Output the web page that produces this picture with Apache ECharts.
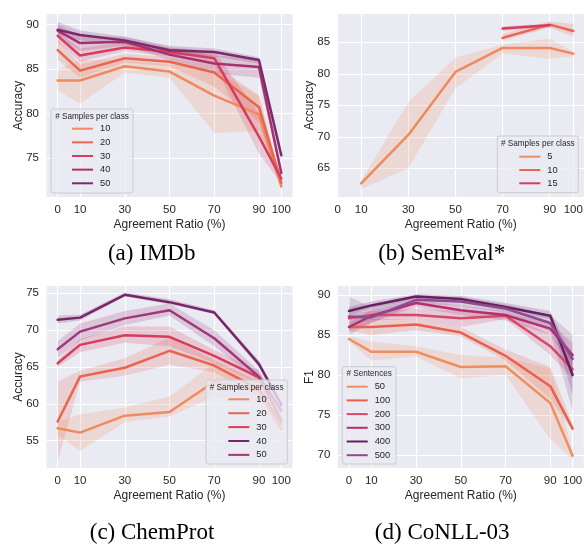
<!DOCTYPE html>
<html><head><meta charset="utf-8">
<script src="https://cdn.jsdelivr.net/npm/echarts@6/dist/echarts.min.js"></script>
<style>html,body{margin:0;padding:0;background:#fff}#c{width:587px;height:545px}</style>
</head><body><div id="c"></div>
<script>
// ---------- data ----------
const ratios = [0, 10, 30, 50, 70, 90, 100];
const xTickValues = [0, 10, 30, 50, 70, 90, 100];

// (a) IMDb
const imdbGroups = ['10', '20', '30', '40', '50'];
const imdbYTicks = [75, 80, 85, 90];
const imdbMean10 = [83.7, 83.7, 85.3, 84.7, 82.0, 79.9, 71.8];
const imdbLo10   = [82.6, 81.1, 84.6, 84.0, 77.8, 78.0, 71.5];
const imdbHi10   = [84.9, 86.0, 86.0, 85.5, 84.8, 82.0, 72.2];
const imdbMean20 = [87.1, 84.8, 86.2, 85.8, 84.6, 80.7, 72.2];
const imdbLo20   = [86.0, 84.0, 85.7, 85.3, 83.0, 79.0, 71.8];
const imdbHi20   = [88.2, 85.5, 86.7, 86.3, 85.5, 82.0, 72.5];
const imdbMean30 = [88.7, 86.5, 87.4, 86.9, 86.2, 77.4, 72.7];
const imdbLo30   = [88.0, 85.8, 87.0, 86.4, 85.5, 75.5, 72.1];
const imdbHi30   = [89.2, 87.3, 88.0, 87.4, 87.0, 80.0, 73.1];
const imdbMean40 = [89.3, 87.9, 88.05, 86.6, 85.6, 85.2, 73.3];
const imdbLo40   = [88.6, 87.0, 87.6, 86.0, 84.5, 84.0, 72.8];
const imdbHi40   = [90.0, 88.7, 88.6, 87.4, 86.5, 86.2, 73.8];
const imdbMean50 = [89.4, 88.8, 88.2, 87.1, 86.9, 86.0, 75.3];
const imdbLo50   = [88.8, 88.2, 87.7, 86.6, 86.4, 85.6, 74.8];
const imdbHi50   = [90.3, 89.3, 88.6, 87.6, 87.3, 86.3, 75.6];

// (b) SemEval*
const semGroups = ['5', '10', '15'];
const semYTicks = [65, 70, 75, 80, 85];
const semMean5  = [null, 62.6, 70.3, 80.3, 84.1, 84.1, 83.2];
const semLo5    = [null, 61.7, 65.0, 77.7, 83.2, 82.4, 82.8];
const semHi5    = [null, 63.0, 75.5, 82.6, 84.6, 85.6, 83.5];
const semMean10 = [null, null, null, null, 85.7, 87.8, 86.8];
const semLo10   = [null, null, null, null, 85.3, 87.3, 85.9];
const semHi10   = [null, null, null, null, 86.3, 88.3, 87.9];
const semMean15 = [null, null, null, null, 87.2, 87.7, null];
const semLo15   = [null, null, null, null, 86.8, 87.4, null];
const semHi15   = [null, null, null, null, 87.5, 88.0, null];

// (c) ChemProt
const chemGroups = ['10', '20', '30', '40', '50'];
const chemYTicks = [55, 60, 65, 70, 75];
const chemMean10 = [56.7, 56.1, 58.4, 58.9, 63.0, 61.7, 56.6];
const chemLo10   = [55.8, 53.6, 57.5, 58.3, 61.0, 60.0, 56.0];
const chemHi10   = [57.5, 58.6, 59.5, 61.0, 65.5, 63.0, 57.2];
const chemMean20 = [57.6, 63.7, 64.9, 67.2, 65.2, 62.0, 57.3];
const chemLo20   = [52.3, 63.0, 63.8, 65.3, 64.3, 61.0, 56.8];
const chemHi20   = [63.0, 64.5, 66.2, 69.0, 66.0, 63.0, 58.0];
const chemMean30 = [65.5, 68.0, 69.3, 69.1, 66.5, 63.6, 57.8];
const chemLo30   = [65.0, 67.0, 68.3, 67.8, 65.5, 62.8, 57.2];
const chemHi30   = [66.0, 68.8, 70.5, 70.5, 67.3, 64.5, 58.4];
const chemMean40 = [71.4, 71.7, 74.8, 73.8, 72.4, 65.4, 59.9];
const chemLo40   = [70.9, 71.3, 74.6, 73.5, 72.2, 65.0, 59.5];
const chemHi40   = [72.0, 72.1, 75.1, 74.2, 72.7, 65.9, 60.3];
const chemMean50 = [67.4, 69.8, 71.6, 72.7, 68.9, 63.7, 59.1];
const chemLo50   = [66.3, 68.6, 70.7, 72.0, 67.8, 63.0, 58.5];
const chemHi50   = [68.5, 70.9, 72.6, 73.6, 70.0, 64.5, 59.7];

// (d) CoNLL-03
const conllGroups = ['50', '100', '200', '300', '400', '500'];
const conllYTicks = [70, 75, 80, 85, 90];
const conllMean50  = [84.5, 82.9, 82.9, 81.0, 81.1, 76.5, 69.9];
const conllLo50    = [84.2, 81.8, 82.3, 79.6, 80.0, 72.0, 69.4];
const conllHi50    = [84.8, 84.2, 83.6, 82.5, 82.2, 80.8, 70.5];
const conllMean100 = [86.0, 86.0, 86.3, 85.3, 82.4, 78.6, 73.3];
const conllLo100   = [85.5, 85.0, 85.6, 84.8, 81.8, 77.0, 73.0];
const conllHi100   = [86.5, 87.0, 87.0, 86.0, 83.2, 81.0, 73.8];
const conllMean200 = [87.1, 87.5, 87.5, 87.1, 87.4, 83.6, 80.7];
const conllLo200   = [86.5, 86.8, 87.0, 86.0, 87.0, 82.5, 79.5];
const conllHi200   = [87.7, 88.0, 88.3, 88.0, 87.8, 85.0, 82.0];
const conllMean300 = [86.0, 87.4, 89.0, 88.1, 87.5, 85.8, 82.5];
const conllLo300   = [85.5, 86.5, 88.5, 87.5, 86.8, 85.0, 81.0];
const conllHi300   = [86.5, 88.2, 89.4, 88.7, 88.0, 86.5, 84.0];
const conllMean400 = [88.0, 88.7, 89.8, 89.5, 88.5, 87.4, 80.0];
const conllLo400   = [87.5, 88.3, 89.4, 89.1, 88.0, 87.0, 77.5];
const conllHi400   = [88.5, 89.2, 90.1, 89.9, 89.0, 88.0, 82.0];
const conllMean500 = [87.3, 87.2, 89.4, 89.2, 88.3, 86.5, 82.0];
const conllLo500   = [85.0, 86.5, 89.0, 88.6, 87.8, 85.5, 75.5];
const conllHi500   = [89.8, 88.5, 90.0, 89.7, 88.8, 87.5, 85.0];

// ---------- layout / style ----------
const FONT = '"Liberation Sans", Arial, sans-serif';
const panels = [
  { id: 'a', grid: { left: 46.5, top: 14, width: 246, height: 183 }, xr: [-5, 105], yr: [70.62, 91.16],
    yTicks: imdbYTicks, yName: 'Accuracy', groups: imdbGroups,
    mean: [imdbMean10, imdbMean20, imdbMean30, imdbMean40, imdbMean50],
    lo: [imdbLo10, imdbLo20, imdbLo30, imdbLo40, imdbLo50],
    hi: [imdbHi10, imdbHi20, imdbHi30, imdbHi40, imdbHi50],
    colors: ['#ee8a5d', '#e8654f', '#d63c5c', '#a8306f', '#7a2a6b'],
    legendTitle: '# Samples per class', box: [51, 109, 82, 84], titleY: 117, iconLeft: 72, rowTop: 122.7, gap: 1.65,
    caption: '(a) IMDb', cap: [151.7, 254] },
  { id: 'b', grid: { left: 337.6, top: 14, width: 246.3, height: 183 }, xr: [0, 104.5], yr: [60.44, 89.49],
    yTicks: semYTicks, yName: 'Accuracy', groups: semGroups,
    mean: [semMean5, semMean10, semMean15], lo: [semLo5, semLo10, semLo15], hi: [semHi5, semHi10, semHi15],
    colors: ['#ee8a5d', '#e8654f', '#d63c5c'],
    legendTitle: '# Samples per class', box: [497.3, 136, 81, 56.7], titleY: 144, iconLeft: 519.3, rowTop: 150.7, gap: 1.3,
    caption: '(b) SemEval*', cap: [441.7, 254] },
  { id: 'c', grid: { left: 46.5, top: 286, width: 246, height: 182 }, xr: [-5, 105], yr: [51.3, 75.99],
    yTicks: chemYTicks, yName: 'Accuracy', groups: chemGroups,
    mean: [chemMean10, chemMean20, chemMean30, chemMean40, chemMean50],
    lo: [chemLo10, chemLo20, chemLo30, chemLo40, chemLo50],
    hi: [chemHi10, chemHi20, chemHi30, chemHi40, chemHi50],
    colors: ['#ee8a5d', '#e8654f', '#d63c5c', '#7a2468', '#a0377a'],
    legendTitle: '# Samples per class', box: [206, 380, 81.3, 84], titleY: 387.3, iconLeft: 228.3, rowTop: 393.3, gap: 1.9,
    caption: '(c) ChemProt', cap: [152, 532.5] },
  { id: 'd', grid: { left: 337.8, top: 286, width: 246, height: 182 }, xr: [-5, 105], yr: [68.375, 91.125],
    yTicks: conllYTicks, yName: 'F1', groups: conllGroups,
    mean: [conllMean50, conllMean100, conllMean200, conllMean300, conllMean400, conllMean500],
    lo: [conllLo50, conllLo100, conllLo200, conllLo300, conllLo400, conllLo500],
    hi: [conllHi50, conllHi100, conllHi200, conllHi300, conllHi400, conllHi500],
    colors: ['#ef8f60', '#e8604c', '#d8476a', '#b3306f', '#6a1f60', '#8e4a8e'],
    legendTitle: '# Sentences', box: [342.3, 366.7, 53.7, 97.3], titleY: 374, iconLeft: 346.7, rowTop: 380.7, gap: 1.7,
    caption: '(d) CoNLL-03', cap: [442.2, 532.5] }
];

function rgba(hex, a) {
  const n = parseInt(hex.slice(1), 16);
  return 'rgba(' + (n >> 16) + ',' + ((n >> 8) & 255) + ',' + (n & 255) + ',' + a + ')';
}

const grids = [], xAxes = [], yAxes = [], series = [], legends = [], graphics = [];
panels.forEach((p, gi) => {
  grids.push(Object.assign({ show: true, backgroundColor: '#EAEAF2', borderWidth: 0, outerBoundsMode: 'none', containLabel: false }, p.grid));
  xAxes.push({
    type: 'value', gridIndex: gi, min: p.xr[0], max: p.xr[1],
    name: 'Agreement Ratio (%)', nameLocation: 'middle', nameGap: 22, nameMoveOverlap: false,
    nameTextStyle: { fontFamily: FONT, fontSize: 12, color: '#262626' },
    axisLine: { show: false },
    axisTick: { show: false, customValues: xTickValues },
    axisLabel: { customValues: xTickValues, fontFamily: FONT, fontSize: 11.5, color: '#262626', margin: 7, hideOverlap: false, showMinLabel: true, showMaxLabel: true },
    splitLine: { show: true, lineStyle: { color: '#ffffff', width: 1.2 } }
  });
  yAxes.push({
    type: 'value', gridIndex: gi, min: p.yr[0], max: p.yr[1],
    name: p.yName, nameLocation: 'middle', nameGap: 22, nameRotate: 90, nameMoveOverlap: false,
    nameTextStyle: { fontFamily: FONT, fontSize: 12, color: '#262626' },
    axisLine: { show: false },
    axisTick: { show: false, customValues: p.yTicks },
    axisLabel: { customValues: p.yTicks, fontFamily: FONT, fontSize: 11.5, color: '#262626', margin: 7.5 },
    splitLine: { show: true, lineStyle: { color: '#ffffff', width: 1.2 } }
  });
  const names = [];
  p.groups.forEach((g, k) => {
    const m = p.mean[k], lo = p.lo[k], hi = p.hi[k], col = p.colors[k];
    const first = m.findIndex(v => v != null);
    series.push({
      type: 'custom', xAxisIndex: gi, yAxisIndex: gi, silent: true, z: 2,
      data: [[ratios[first], lo[first]]],
      renderItem: function (params, api) {
        const pts = [];
        ratios.forEach((x, i) => { if (lo[i] != null) pts.push(api.coord([x, lo[i]])); });
        for (let i = ratios.length - 1; i >= 0; i--) { if (hi[i] != null) pts.push(api.coord([ratios[i], hi[i]])); }
        return { type: 'polygon', shape: { points: pts }, style: { fill: rgba(col, 0.2) } };
      }
    });
    const name = p.id + '|' + g;
    names.push(name);
    series.push({
      type: 'line', name: name, xAxisIndex: gi, yAxisIndex: gi, z: 2,
      data: ratios.map((x, i) => m[i] == null ? null : [x, m[i]]).filter(d => d),
      showSymbol: false, symbol: 'none', silent: true,
      color: col, itemStyle: { color: col },
      lineStyle: { color: col, width: 2.5, cap: 'round', join: 'round' },
      emphasis: { disabled: true }
    });
  });
  legends.push({
    data: names, left: p.iconLeft, top: p.rowTop, orient: 'vertical', padding: 0,
    itemGap: p.gap, itemWidth: 21, itemHeight: 2, icon: 'rect', selectedMode: false, z: 6,
    formatter: n => n.split('|')[1],
    textStyle: { fontFamily: FONT, fontSize: 9.3, color: '#262626', lineHeight: 12, padding: [0, 0, 0, 2] }
  });
  graphics.push({
    type: 'rect', z: 5, silent: true,
    shape: { x: p.box[0], y: p.box[1], width: p.box[2], height: p.box[3], r: 2 },
    style: { fill: 'rgba(234,234,242,0.8)', stroke: '#cccccc', lineWidth: 1 }
  });
  graphics.push({
    type: 'text', z: 6, silent: true, x: p.box[0] + p.box[2] / 2, y: p.titleY,
    style: { text: p.legendTitle, font: '8.2px ' + FONT, fill: '#262626', align: 'center', verticalAlign: 'middle' }
  });
  graphics.push({
    type: 'text', z: 6, silent: true, x: p.cap[0], y: p.cap[1],
    style: { text: p.caption, font: '23px "Liberation Serif", "Times New Roman", serif', fill: '#000', align: 'center', verticalAlign: 'middle' }
  });
});

const chart = echarts.init(document.getElementById('c'), null, { renderer: 'canvas' });
chart.setOption({
  animation: false,
  backgroundColor: '#ffffff',
  grid: grids, xAxis: xAxes, yAxis: yAxes, series: series, legend: legends,
  graphic: { elements: graphics }
});
</script>
</body></html>
